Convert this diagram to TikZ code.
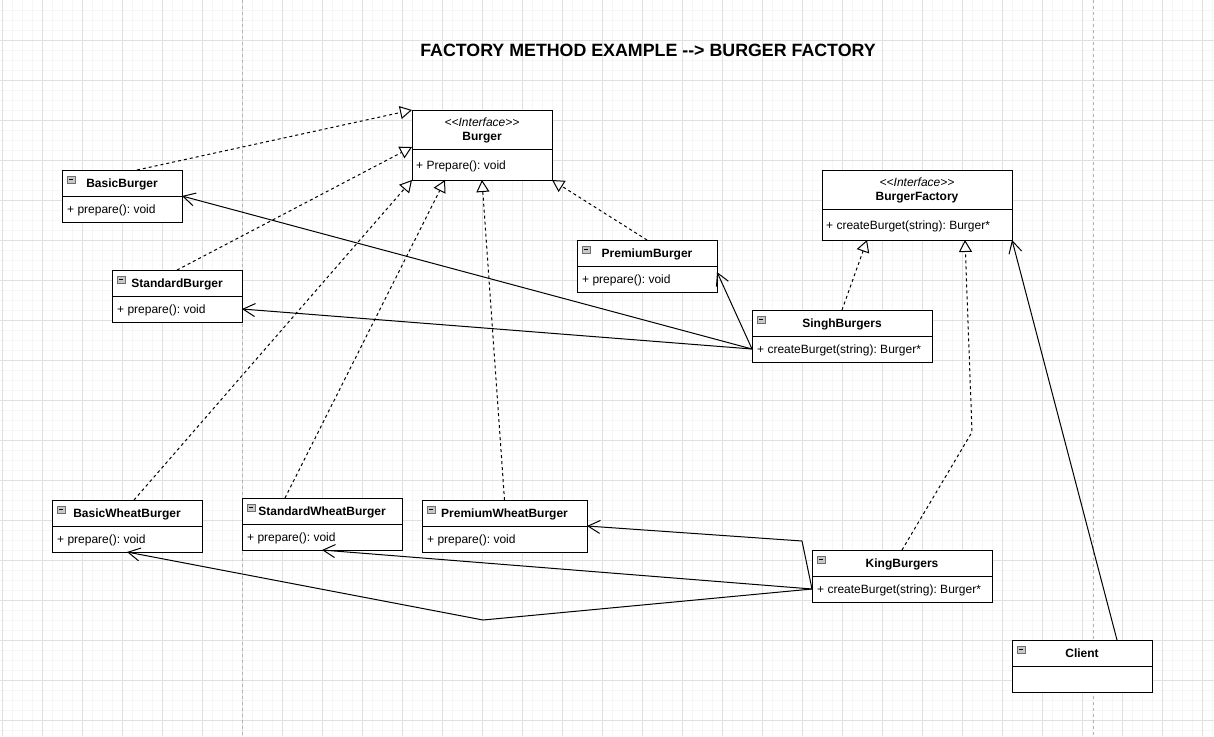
\documentclass[tikz,border=0pt]{standalone}
\usepackage{fontspec}
\setmainfont{Liberation Sans}
\usetikzlibrary{arrows.meta,calc}
\definecolor{gridminor}{RGB}{246,246,246}
\definecolor{gridmajor}{RGB}{224,224,224}
\definecolor{pagebreak}{RGB}{180,180,180}
\definecolor{iconfill}{RGB}{200,200,200}
\definecolor{icondraw}{RGB}{110,110,110}
\frenchspacing
\newcommand\umlcls[8]{%
  \node[hdr, minimum width=#4pt, minimum height=#5pt] (#1) at (#2,#3) {#7};
  \node[bdy, minimum width=#4pt, minimum height=#6pt] (#1M) at (#1.south west) {};
  \node[mtxt] (#1T) at ($(#1M.west)+(5,1.5)$) {#8};
  \draw[icon] ($(#1.north west)+(5,6)$) rectangle ++(8,7);
  \draw[line width=0.8pt] ($(#1.north west)+(7,9.5)$) -- ++(4,0);
}
\newcommand\umlif[8]{%
  \node[hdr, minimum width=#4pt, minimum height=#5pt] (#1) at (#2,#3) {#7};
  \node[bdy, minimum width=#4pt, minimum height=#6pt] (#1M) at (#1.south west) {};
  \node[mtxt] (#1T) at ($(#1M.west)+(4,1.5)$) {#8};
}
\begin{document}
\begin{tikzpicture}[x=1pt,y=-1pt,
  hdr/.style={draw, line width=1pt, fill=white, anchor=north west, inner sep=0pt, outer sep=0pt, align=center, text depth=0pt, font=\fontsize{12}{14}\selectfont\bfseries},
  bdy/.style={draw, line width=1pt, fill=white, anchor=north west, inner sep=0pt, outer sep=0pt},
  mtxt/.style={anchor=west, inner sep=0pt, font=\fontsize{12}{14}\selectfont},
  icon/.style={draw=icondraw, fill=iconfill, line width=0.6pt},
  real/.style={draw, line width=1pt, dash pattern=on 3pt off 3pt, -{Triangle[length=12pt,width=13pt,fill=white,line width=1pt]}},
  assoc/.style={draw, line width=1pt, -{Straight Barb[length=12pt,width=13pt,line width=1pt]}},
  minorline/.style={draw=gridminor, line width=0.8pt},
  majorline/.style={draw=gridmajor, line width=0.8pt},
  pbline/.style={draw=pagebreak, line width=0.8pt, dash pattern=on 3pt off 3pt}
]
\fill[white] (0,0) rectangle (1214,736);
\useasboundingbox (0,0) rectangle (1214,736);
% grid
\foreach \x in {2,12,...,1212} \draw[minorline] (\x,0) -- (\x,736);
\foreach \y in {10,20,...,730} \draw[minorline] (0,\y) -- (1214,\y);
\foreach \x in {2,42,...,1212} \draw[majorline] (\x,0) -- (\x,736);
\foreach \y in {40,80,...,730} \draw[majorline] (0,\y) -- (1214,\y);
\draw[pbline] (242,0) -- (242,736);
\draw[pbline] (1093,0) -- (1093,736);

% title
\node[font=\fontsize{17.8}{20}\selectfont\bfseries] (title) at (648,50) {FACTORY METHOD EXAMPLE -\kern0pt-\kern0pt> BURGER FACTORY};

% classes
\umlif{bg}{412}{110}{140}{39}{31}{{\mdseries\itshape <\kern0pt<Interface>\kern0pt>}\\Burger}{+ Prepare(): void}
\umlif{bf}{822}{170}{190}{39}{31}{{\mdseries\itshape <\kern0pt<Interface>\kern0pt>}\\BurgerFactory}{+ createBurget(string): Burger*}
\umlcls{bb}{62}{170}{120}{26}{26}{BasicBurger}{+ prepare(): void}
\umlcls{sb}{112}{270}{130}{26}{26}{StandardBurger}{+ prepare(): void}
\umlcls{pb}{577}{240}{140}{26}{26}{PremiumBurger}{+ prepare(): void}
\umlcls{sg}{752}{310}{180}{26}{26}{SinghBurgers}{+ createBurget(string): Burger*}
\umlcls{bw}{52}{500}{150}{26}{26}{BasicWheatBurger}{+ prepare(): void}
\umlcls{sw}{242}{498}{160}{26}{26}{StandardWheatBurger}{+ prepare(): void}
\umlcls{pw}{422}{500}{165}{26}{26}{PremiumWheatBurger}{+ prepare(): void}
\umlcls{kg}{812}{550}{180}{26}{26}{KingBurgers}{+ createBurget(string): Burger*}
\umlcls{cl}{1012}{640}{140}{26}{26}{Client}{}

% waypoints
\coordinate (w1) at (972,432);
\coordinate (w2) at (802,541);
\coordinate (w3) at (483,620);

% realizations
\draw[real] ($(bb.north)+(15,0)$) -- (bg.north west);
\draw[real] (sb.north) -- ($(bg.south west)+(0,-2)$);
\draw[real] ($(bw.north)+(7,0)$) -- (bgM.south west);
\draw[real] ($(sw.north)+(-37,0)$) -- ($(bgM.south west)+(33,0)$);
\draw[real] (pw.north) -- (bgM.south);
\draw[real] (pb.north) -- (bgM.south east);
\draw[real] (sg.north) -- ($(bfM.south)+(-50,0)$);
\draw[real] (kg.north) -- (w1) -- ($(bfM.south)+(48,0)$);

% associations
\draw[assoc] (sgM.west) -- (bb.south east);
\draw[assoc] (sgM.west) -- (sbM.east);
\draw[assoc] (sgM.west) -- ($(pbM.north east)+(0,6)$);
\draw[assoc] (kgM.west) -- (w2) -- (pw.south east);
\draw[assoc] (kgM.west) -- (swM.south);
\draw[assoc] (kgM.west) -- (w3) -- (bwM.south);
\draw[assoc] ($(cl.north)+(35,0)$) -- (bfM.south east);
\end{tikzpicture}
\end{document}
